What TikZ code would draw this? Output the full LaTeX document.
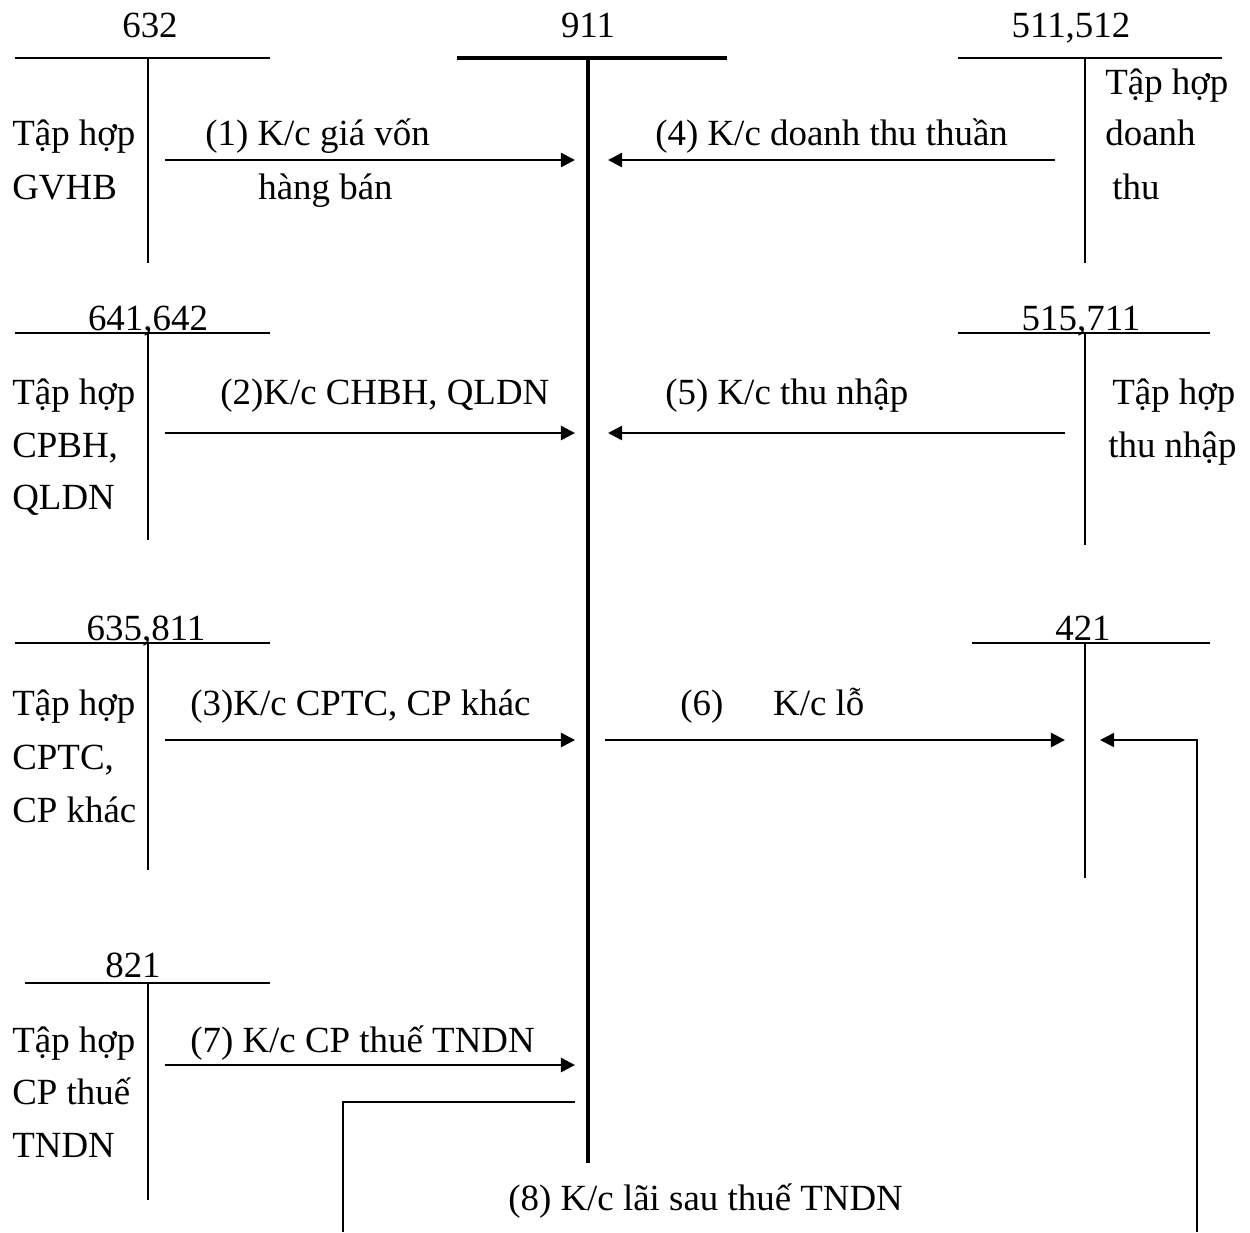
\documentclass[tikz,border=0pt]{standalone}
\usepackage{fontspec}
\setmainfont{Liberation Serif}
\usetikzlibrary{arrows.meta}

\begin{document}
\begin{tikzpicture}[
    x=0.02cm, y=-0.02cm,
    every node/.style={font=\fontsize{21}{25}\selectfont, inner sep=0pt},
    txt/.style={anchor=base west},
    num/.style={anchor=base},
    tacc/.style={line width=1.1pt},
    main/.style={line width=2.6pt},
    flow/.style={line width=1.4pt, -{Triangle[length=8pt, width=8pt]}},
    link/.style={line width=1pt},
]
\useasboundingbox (0,0) rectangle (1250,1232);

% ================================================================ account 911
\draw[main] (457,58) -- (727,58);
\draw[main] (588,58) -- (588,1163);
\node[num] (a911) at (588,37) {911};

% ================================================================ the other T accounts
\foreach \nm/\lab/\lx/\ly/\a/\b/\v/\t/\e in {
    a632/632/150/37/15/270/148/58/263,
    a641/{641,642}/148/330/15/270/148/333/540,
    a635/{635,811}/146/640/15/270/148/643/870,
    a821/821/133/977/25/270/148/983/1200,
    a511/{511,512}/1071/37/958/1222/1085/58/263,
    a515/{515,711}/1081/330/958/1210/1085/333/545,
    a421/421/1083/640/972/1210/1085/643/878}{
    \draw[tacc] (\a,\t) -- (\b,\t);
    \draw[tacc] (\v,\t) -- (\v,\e);
    \node[num] (\nm) at (\lx,\ly) {\lab};
}

% ================================================================ what is collected
\foreach \i/\x/\y/\t in {
    1/12/145/Tập hợp, 2/12/199/GVHB,
    3/12/404/Tập hợp, 4/12/457/{CPBH,}, 5/12/509/QLDN,
    6/12/715/Tập hợp, 7/12/769/{CPTC,}, 8/12/822/CP khác,
    9/12/1052/Tập hợp, 10/12/1104/CP thuế, 11/12/1157/TNDN,
    12/1105/94/Tập hợp, 13/1105/145/doanh, 14/1112/199/thu,
    15/1112/404/Tập hợp, 16/1108/457/thu nhập}{
    \node[txt] (g\i) at (\x,\y) {\t};
}

% ================================================================ transfers
\foreach \k/\xa/\xb/\y in {1/165/575/160, 2/165/575/433, 3/165/575/740,
    7/165/575/1065, 4/1055/608/160, 5/1065/608/433, 6/605/1065/740}{
    \coordinate (f\k s) at (\xa,\y);
    \coordinate (f\k e) at (\xb,\y);
    \draw[flow] (f\k s) -- (f\k e);
}
\node[txt] (k1) at (205,145) {(1) K/c giá vốn};
\node[txt] (k1b) at (258,199) {hàng bán};
\node[txt] (k2) at (220,404) {(2)K/c CHBH, QLDN};
\node[txt] (k3) at (190,715) {(3)K/c CPTC, CP khác};
\node[txt] (k4) at (655,145) {(4) K/c doanh thu thuần};
\node[txt] (k5) at (665,404) {(5) K/c thu nhập};
\node[txt] (k6) at (680,715) {(6)\hspace{1.1em} K/c lỗ};
\node[txt] (k7) at (190,1052) {(7) K/c CP thuế TNDN};

% profit after tax, running off the bottom
\coordinate (p8s) at (575,1102);
\coordinate (p8l) at (343,1232);
\coordinate (p8r) at (1197,1232);
\coordinate (p8e) at (1100,740);
\draw[link] (p8s) -| (p8l);
\draw[link, -{Triangle[length=8pt, width=8pt]}] (p8r) |- (p8e);
\node[txt] (k8) at (508,1210) {(8) K/c lãi sau thuế TNDN};
\end{tikzpicture}
\end{document}
